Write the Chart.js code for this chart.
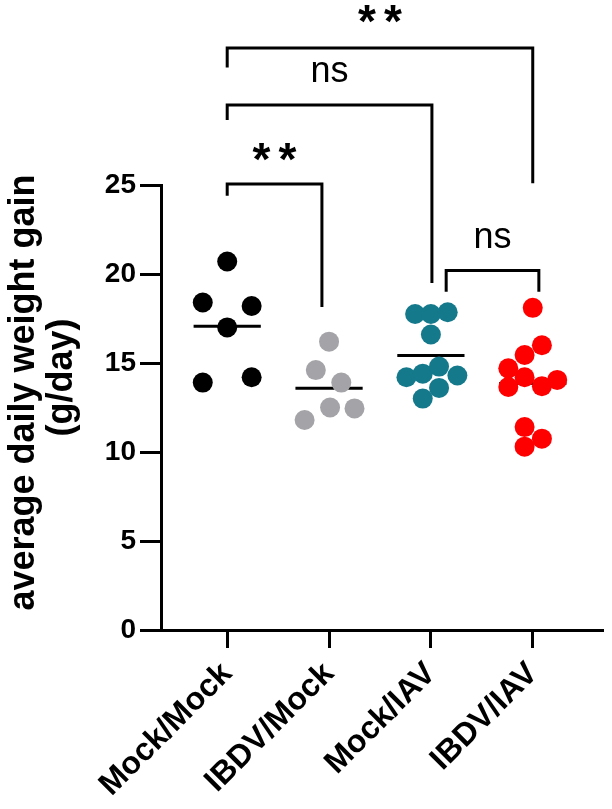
<!DOCTYPE html>
<html>
<head>
<meta charset="utf-8">
<script src="https://cdn.jsdelivr.net/npm/chart.js@4.4.1/dist/chart.umd.min.js"></script>
<style>
    body { margin: 0; background: #fff; }
</style>
</head>
<body>
<canvas id="weight-chart" width="612" height="809"></canvas>
<script>
// Groups on the x axis
const groups = ["Mock/Mock", "IBDV/Mock", "Mock/IAV", "IBDV/IAV"];

// Average daily weight gain (g/day) per bird
const mockMock = [20.7, 18.4, 18.2, 17.0, 13.9, 14.2];
const ibdvMock = [16.2, 14.6, 13.9, 12.5, 12.45, 11.8];
const mockIav = [17.75, 17.75, 17.85, 16.6, 14.2, 14.4, 14.8, 14.3, 13.6, 13.0];
const ibdvIav = [18.1, 16.0, 15.45, 14.7, 14.2, 14.05, 13.65, 13.7, 11.4, 10.75, 10.3];

// Sideways spread of the dots inside a column (category units)
const mockMockSpread = [0, -0.24, 0.24, 0, -0.24, 0.24];
const ibdvMockSpread = [0, -0.13, 0.12, 0.01, 0.25, -0.24];
const mockIavSpread = [-0.155, 0, 0.165, 0, -0.24, -0.08, 0.08, 0.26, 0.08, -0.08];
const ibdvIavSpread = [0, 0.09, -0.08, -0.24, -0.08, 0.24, -0.24, 0.09, -0.08, 0.09, -0.08];

const yTicks = [0, 5, 10, 15, 20, 25];

// Significance brackets: columns joined, bracket height, leg ends, label height
const comparisons = [
    { label: "**", from: 0, to: 3, top: 32.7, leftEnd: 31.6, rightEnd: 25.1, textAt: 34.6 },
    { label: "ns", from: 0, to: 2.01, top: 29.5, leftEnd: 28.65, rightEnd: 19.5, textAt: 31.35 },
    { label: "**", from: 0, to: 0.93, top: 25.05, leftEnd: 24.4, rightEnd: 18.15, textAt: 26.85 },
    { label: "ns", from: 2.15, to: 3.06, top: 20.2, leftEnd: 19.0, rightEnd: 19.0, textAt: 22.0 }
];

const seriesValues = [mockMock, ibdvMock, mockIav, ibdvIav];
const seriesSpread = [mockMockSpread, ibdvMockSpread, mockIavSpread, ibdvIavSpread];
const seriesColors = ["#000000", "#a4a4a8", "#15798c", "#ff0000"];

function mean(arr) {
    return arr.reduce((a, b) => a + b, 0) / arr.length;
}

// Mean lines drawn under the dots
const meanLines = {
    id: "meanLines",
    beforeDatasetsDraw(chart) {
        const ctx = chart.ctx;
        const x = chart.scales.x, y = chart.scales.y;
        ctx.save();
        ctx.strokeStyle = "#000";
        ctx.lineWidth = 3;
        seriesValues.forEach((vals, i) => {
            const py = y.getPixelForValue(mean(vals));
            ctx.beginPath();
            ctx.moveTo(x.getPixelForValue(i - 0.33), py);
            ctx.lineTo(x.getPixelForValue(i + 0.33), py);
            ctx.stroke();
        });
        ctx.restore();
    }
};

// Brackets and their labels above the data
const bracketPlugin = {
    id: "brackets",
    afterDraw(chart) {
        const ctx = chart.ctx;
        const x = chart.scales.x, y = chart.scales.y;
        ctx.save();
        ctx.strokeStyle = "#000";
        ctx.fillStyle = "#000";
        ctx.lineWidth = 3;
        ctx.lineJoin = "miter";
        comparisons.forEach(c => {
            const x1 = x.getPixelForValue(c.from), x2 = x.getPixelForValue(c.to);
            ctx.beginPath();
            ctx.moveTo(x1, y.getPixelForValue(c.leftEnd));
            ctx.lineTo(x1, y.getPixelForValue(c.top));
            ctx.lineTo(x2, y.getPixelForValue(c.top));
            ctx.lineTo(x2, y.getPixelForValue(c.rightEnd));
            ctx.stroke();

            const cx = (x1 + x2) / 2;
            const cy = y.getPixelForValue(c.textAt);
            ctx.textAlign = "center";
            ctx.textBaseline = "alphabetic";
            if (c.label === "**") {
                ctx.font = "bold 46px 'Liberation Sans', Arial, sans-serif";
                const m = ctx.measureText("*");
                const base = cy + (m.actualBoundingBoxAscent - m.actualBoundingBoxDescent) / 2;
                ctx.fillText("*", cx - 13, base);
                ctx.fillText("*", cx + 13, base);
            } else {
                ctx.font = "36px 'Liberation Sans', Arial, sans-serif";
                const m = ctx.measureText(c.label);
                const base = cy + (m.actualBoundingBoxAscent - m.actualBoundingBoxDescent) / 2;
                ctx.fillText(c.label, cx, base);
            }
        });
        ctx.restore();
    }
};

const datasets = seriesValues.map((vals, i) => ({
    label: groups[i],
    data: vals.map((v, j) => ({ x: i + seriesSpread[i][j], y: v })),
    backgroundColor: seriesColors[i],
    borderWidth: 0,
    pointRadius: 10,
    pointHoverRadius: 10,
    clip: false
}));

new Chart(document.getElementById("weight-chart"), {
    type: "scatter",
    data: { datasets: datasets },
    options: {
        responsive: false,
        animation: false,
        layout: { padding: { top: 185, right: 4, left: 0, bottom: 0 } },
        plugins: { legend: { display: false }, tooltip: { enabled: false } },
        scales: {
            x: {
                type: "linear",
                min: -0.65,
                max: 3.68,
                afterBuildTicks: axis => { axis.ticks = groups.map((g, i) => ({ value: i })); },
                afterFit: scale => { scale.height = 179; },
                grid: { drawOnChartArea: false, color: "#000", lineWidth: 3, tickLength: 18 },
                border: { color: "#000", width: 3 },
                ticks: {
                    color: "#000",
                    minRotation: 45,
                    maxRotation: 45,
                    padding: 7,
                    font: { family: "'Liberation Sans', Arial, sans-serif", size: 32, weight: "bold" },
                    callback: value => groups[value]
                }
            },
            y: {
                min: 0,
                max: 25,
                afterBuildTicks: axis => { axis.ticks = yTicks.map(v => ({ value: v })); },
                afterFit: scale => { scale.width = 161; },
                grid: { drawOnChartArea: false, color: "#000", lineWidth: 3, tickLength: 21 },
                border: { color: "#000", width: 3 },
                ticks: {
                    color: "#000",
                    padding: 4,
                    font: { family: "'Liberation Sans', Arial, sans-serif", size: 28, weight: "bold" }
                },
                title: {
                    display: true,
                    // leading spaces nudge the centred title up, as in the original figure
                    text: ["   average daily weight gain", "      (g/day)"],
                    color: "#000",
                    padding: { top: 6, bottom: 0 },
                    font: { family: "'Liberation Sans', Arial, sans-serif", size: 36, weight: "bold", lineHeight: 1.03 }
                }
            }
        }
    },
    plugins: [meanLines, bracketPlugin]
});
</script>
</body>
</html>
